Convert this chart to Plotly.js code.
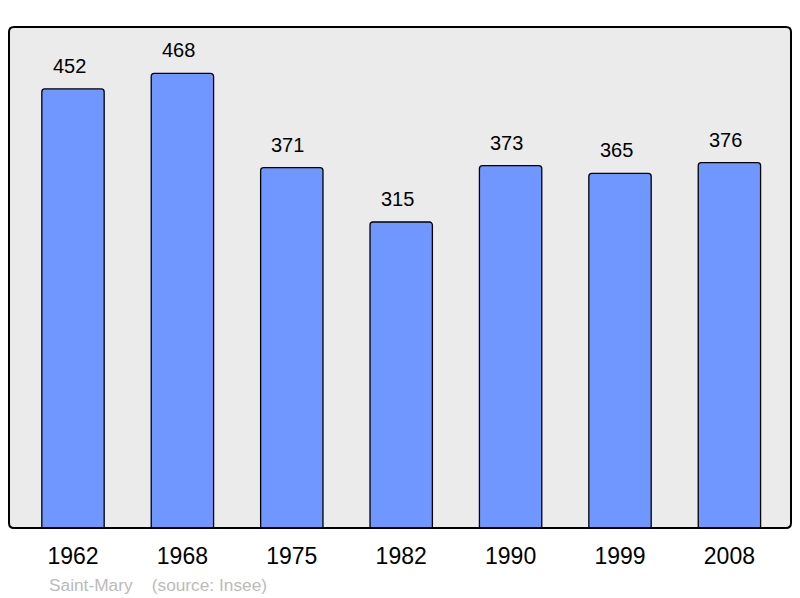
<!DOCTYPE html>
<html>
<head>
<meta charset="utf-8">
<script src="https://cdn.plot.ly/plotly-3.0.1.min.js"></script>
<style>html,body{margin:0;padding:0;background:#fff;}#chart{width:800px;height:598px;}</style>
</head>
<body>
<div id="chart"></div>
<script>
var years = ["1962", "1968", "1975", "1982", "1990", "1999", "2008"];
var population = [452, 468, 371, 315, 373, 365, 376];
var footerText = "Saint-Mary&nbsp;&nbsp;&nbsp;&nbsp;(source: Insee)";

var trace = {
  type: "bar",
  x: years,
  y: population,
  width: 0.57,
  marker: {color: "#7096ff", line: {color: "#000", width: 1.3}, cornerradius: 3},
  hoverinfo: "none"
};

var annotations = years.map(function (yr, i) {
  return {
    x: i, y: population[i], xref: "x", yref: "y",
    text: String(population[i]), showarrow: false,
    yanchor: "bottom", yshift: 10, xshift: -4,
    font: {family: "Liberation Sans, Arial, sans-serif", size: 20, color: "#000"}
  };
});
annotations.push({
  x: 0.0, y: 0, xref: "paper", yref: "paper",
  text: footerText, showarrow: false, xanchor: "left", yanchor: "top",
  xshift: 38, yshift: -45,
  font: {family: "Liberation Sans, Arial, sans-serif", size: 17.3, color: "#bbbbbb"}
});

// rounded frame around the plot area (paper coordinates)
var W = 782, H = 501, r = 5;
var rx = r / W, ry = r / H;
var framePath = "M " + rx + " 0 L " + (1 - rx) + " 0 Q 1 0 1 " + ry +
  " L 1 " + (1 - ry) + " Q 1 1 " + (1 - rx) + " 1 L " + rx + " 1 Q 0 1 0 " + (1 - ry) +
  " L 0 " + ry + " Q 0 0 " + rx + " 0 Z";

var layout = {
  width: 800, height: 598,
  margin: {l: 9, r: 9, t: 27, b: 70},
  paper_bgcolor: "#ffffff",
  plot_bgcolor: "#ebebeb",
  showlegend: false,
  xaxis: {
    type: "category",
    range: [-0.585, 6.563],
    showgrid: false, zeroline: false, showline: false,
    ticks: "", ticklen: 0,
    ticklabelstandoff: 12,
    tickfont: {family: "Liberation Sans, Arial, sans-serif", size: 23, color: "#000"},
    fixedrange: true
  },
  yaxis: {
    range: [0, 515.7],
    showgrid: false, zeroline: false, showline: false, showticklabels: false,
    fixedrange: true
  },
  shapes: [{
    type: "path", xref: "paper", yref: "paper", path: framePath,
    line: {color: "#000", width: 2}, fillcolor: "rgba(0,0,0,0)", layer: "above"
  }],
  annotations: annotations,
  bargap: 0.43
};

Plotly.newPlot("chart", [trace], layout, {displayModeBar: false, staticPlot: true});
</script>
</body>
</html>
